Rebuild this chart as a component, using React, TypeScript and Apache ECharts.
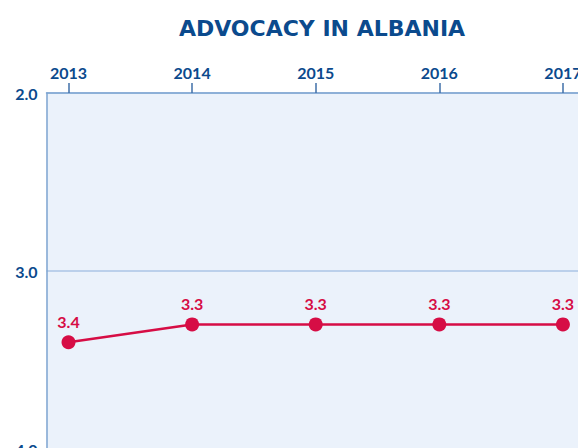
import React, { useEffect, useRef } from "react";
import * as echarts from "echarts";

const years = [2013, 2014, 2015, 2016, 2017];
const values = [3.4, 3.3, 3.3, 3.3, 3.3];
const yTicks = [2, 3, 4];

const BLUE = "#0b4a8d";
const RED = "#d60d45";

export default function App() {
  const ref = useRef<HTMLDivElement>(null);
  useEffect(() => {
    if (!ref.current) return;
    const chart = echarts.init(ref.current, undefined, { renderer: "svg" });
    chart.setOption({
      animation: false,
      title: {
        text: "ADVOCACY IN ALBANIA",
        left: 317,
        top: 12,
        textAlign: "center",
        textStyle: {
          color: BLUE,
          fontFamily: "DejaVu Sans",
          fontWeight: 700,
          fontSize: 22,
        },
      },
      grid: {
        left: 46.5,
        right: -22,
        top: 93,
        bottom: -1,
        containLabel: false,
        outerBoundsMode: "none",
      },
      xAxis: {
        type: "value",
        position: "top",
        min: 2012.822,
        max: 2017.3,
        axisLine: { show: true, lineStyle: { color: "#7ea5d1", width: 1.5 } },
        axisTick: {
          show: true,
          customValues: years,
          length: 10,
          inside: false,
          lineStyle: { color: "#3f6fa8", width: 1.5 },
        },
        axisLabel: {
          customValues: years,
          formatter: (v: number) => String(v),
          color: BLUE,
          fontFamily: "Lato",
          fontWeight: 700,
          fontSize: 16,
          margin: 13,
        },
        splitLine: { show: false },
      },
      yAxis: {
        type: "value",
        inverse: true,
        min: 2,
        max: 4,
        interval: 1,
        axisLine: { show: true, lineStyle: { color: "#7ea5d1", width: 1.5 } },
        axisTick: { show: false },
        axisLabel: {
          customValues: yTicks,
          formatter: (v: number) => v.toFixed(1),
          color: BLUE,
          fontFamily: "Lato",
          fontWeight: 700,
          fontSize: 16,
          margin: 9,
          padding: [3, 0, 0, 0],
        },
        splitLine: { show: true, lineStyle: { color: "#abc5e6", width: 1.5 } },
        splitArea: { show: false },
      },
      series: [
        {
          type: "line",
          data: years.map((y, i) => [y, values[i]]),
          symbol: "circle",
          symbolSize: 14,
          lineStyle: { color: RED, width: 2.5 },
          itemStyle: { color: RED },
          label: {
            show: true,
            position: "top",
            distance: 6,
            formatter: (p: any) => p.value[1].toFixed(1),
            color: RED,
            fontFamily: "Lato",
            fontWeight: 700,
            fontSize: 16,
          },
        },
      ],
      backgroundColor: "#ffffff",
    });
    const rectGrid = (chart as any).getModel().getComponent("grid").coordinateSystem.getRect();
    chart.setOption({
      graphic: [
        {
          type: "rect",
          z: -10,
          silent: true,
          shape: { x: rectGrid.x, y: rectGrid.y, width: rectGrid.width, height: rectGrid.height },
          style: { fill: "#ebf2fb" },
        },
      ],
    });
    return () => chart.dispose();
  }, []);
  return <div ref={ref} style={{ width: 578, height: 448, position: "absolute", left: 0, top: 0 }} />;
}
